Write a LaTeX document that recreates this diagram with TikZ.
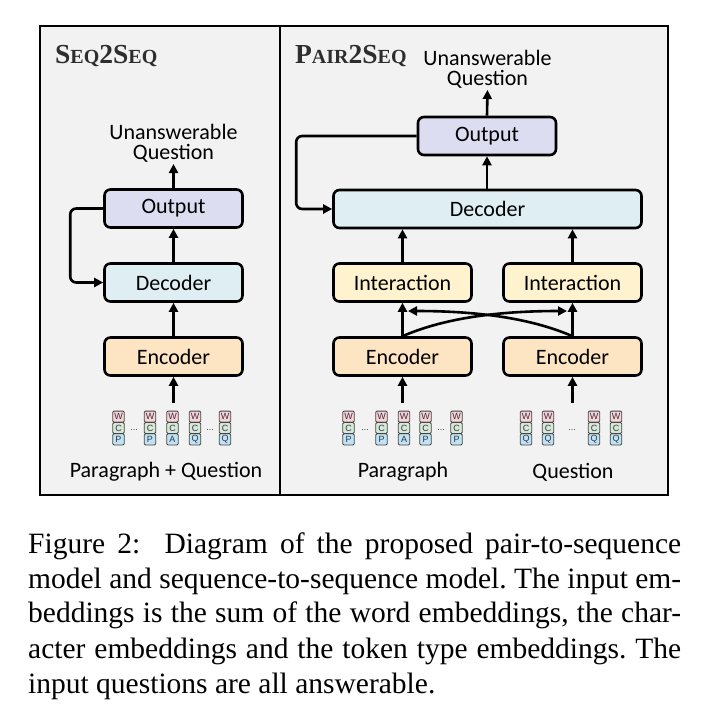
\documentclass[tikz,border=0pt]{standalone}
\usepackage{fontspec}
\setmainfont{Liberation Serif}
\newfontfamily\diagfont{Carlito}
\newfontfamily\tokfont{Liberation Sans}
\usetikzlibrary{arrows.meta,calc}
\definecolor{bggray}{HTML}{F2F2F2}
\definecolor{outfill}{HTML}{DCDDF1}
\definecolor{decfill}{HTML}{DFEEF3}
\definecolor{encfill}{HTML}{FDE4C2}
\definecolor{intfill}{HTML}{FFF2CE}
\definecolor{wfill}{HTML}{F8D3D3}
\definecolor{cfill}{HTML}{D6E9D5}
\definecolor{pfill}{HTML}{BEE3F2}
\definecolor{tokline}{HTML}{454545}
\definecolor{toktext}{HTML}{3A3050}
\definecolor{titlecol}{HTML}{2E2E2E}
\newcommand\SCbig{\fontsize{27.5}{27}\selectfont}
\newcommand\SCsmall{\fontsize{20}{20}\selectfont}
\begin{document}
\frenchspacing
\begin{tikzpicture}[x=1pt,y=-1pt,
  mbox/.style={draw, line width=2.6pt, rounded corners=6pt, minimum width=138pt,
    minimum height=38pt, inner sep=0pt, font=\diagfont\fontsize{22}{24}\selectfont},
  outbox/.style={mbox, fill=outfill},
  decbox/.style={mbox, fill=decfill},
  encbox/.style={mbox, fill=encfill},
  intbox/.style={mbox, fill=intfill},
  arr/.style={line width=2.6pt, -{Triangle[length=9pt,width=9pt]}},
  lbl/.style={inner sep=1pt, font=\diagfont\fontsize{22}{24}\selectfont},
  ulbl/.style={inner sep=1pt, align=center, font=\diagfont\fontsize{22}{20.5}\selectfont},
  ttl/.style={anchor=base west, inner sep=0pt, font=\bfseries, text=titlecol},
  tcell/.style={draw=tokline, line width=0.9pt, rounded corners=1.3pt, minimum width=11.5pt,
    minimum height=11.3pt, inner sep=0pt, text=toktext, font=\tokfont\fontsize{9}{9}\selectfont},
  wcell/.style={tcell, fill=wfill},
  ccell/.style={tcell, fill=cfill},
  pcell/.style={tcell, fill=pfill},
  dotlbl/.style={inner sep=0pt, font=\tokfont\fontsize{9}{9}\selectfont, text=toktext},
  captxt/.style={anchor=base west, inner sep=0pt, font=\fontsize{29.5}{35}\selectfont}
]
\newcommand\tokstack[3]{%
  \node[wcell] (#1w) at (#2,416.7) {W};
  \node[ccell] (#1c) at (#2,428.0) {C};
  \node[pcell] (#1p) at (#2,439.3) {#3};
}
\useasboundingbox (0,0) rectangle (713,716);
\fill[white] (0,0) rectangle (713,716);
\draw[fill=bggray, line width=1.6pt] (40,26) rectangle (668,495);
\draw[line width=1.4pt] (280,26) -- (280,495);

% titles
\node[ttl] (t1) at (55,63) {\SCbig S\SCsmall EQ\SCbig 2S\SCsmall EQ};
\node[ttl] (t2) at (295,63) {\SCbig P\SCsmall AIR\SCbig 2S\SCsmall EQ};

% ---------- Seq2Seq ----------
\node[outbox] (lout) at (173.5,208.5) {Output};
\node[decbox] (ldec) at (173.5,282.5) {Decoder};
\node[encbox] (lenc) at (173.5,356.5) {Encoder};
\node[ulbl, anchor=south] (ltxt) at (173.5,164) {Unanswerable\\Question};
\draw[arr] (ldec) -- (lout);
\draw[arr] (lenc) -- (ldec);
\draw[arr] (lout.north) -- (ltxt.south);
\draw[arr, rounded corners=6pt] (lout.west) -- ++(-33,0) |- (ldec.west);

\tokstack{la}{118.5}{P}
\tokstack{lb}{150}{P}
\tokstack{lc}{172.5}{A}
\tokstack{ld}{195}{Q}
\tokstack{le}{225}{Q}
\node[dotlbl] (ld1) at (134.2,430) {...};
\node[dotlbl] (ld2) at (210,430) {...};
\coordinate (lin) at (173.5,403);
\draw[arr] (lin) -- (lenc.south);
\node[lbl] (lpq) at (166,472) {Paragraph + Question};

% ---------- Pair2Seq ----------
\node[outbox] (rout) at (487,136) {Output};
\node[decbox, minimum width=308pt] (rdec) at (487.5,209) {Decoder};
\node[intbox] (rint1) at (402.5,282.5) {Interaction};
\node[intbox] (rint2) at (572.5,282.5) {Interaction};
\node[encbox] (renc1) at (402.5,356.5) {Encoder};
\node[encbox] (renc2) at (572.5,356.5) {Encoder};
\node[ulbl, anchor=south] (rtxt) at (487.5,90) {Unanswerable\\Question};
\draw[arr] (rout.north) -- (rtxt.south);
\draw[arr] (rdec.north -| rout.south) -- (rout.south);
\draw[arr, rounded corners=6pt] (rout.west) -- ++(-120.5,0) |- (rdec.west);
\draw[arr] (rint1.north) -- (rint1.north |- rdec.south);
\draw[arr] (rint2.north) -- (rint2.north |- rdec.south);
\draw[arr] (renc1) -- (rint1);
\draw[arr] (renc2) -- (rint2);
\coordinate (x1) at (567,311);
\coordinate (x2) at (408,311);
\draw[arr] (renc1.north) .. controls (440,320) and (490,311) .. (x1);
\draw[arr] (renc2.north) .. controls (535,320) and (485,311) .. (x2);

\tokstack{pa}{348.5}{P}
\tokstack{pb}{381.5}{P}
\tokstack{pc}{404}{A}
\tokstack{pd}{425.5}{P}
\tokstack{pe}{456.5}{P}
\node[dotlbl] (pd1) at (365,430) {...};
\node[dotlbl] (pd2) at (441,430) {...};
\tokstack{qa}{526}{Q}
\tokstack{qb}{548}{Q}
\tokstack{qc}{594}{Q}
\tokstack{qd}{616}{Q}
\node[dotlbl] (qd1) at (572,430) {...};
\coordinate (pin) at (402.5,403);
\coordinate (qin) at (572.5,403);
\draw[arr] (pin) -- (renc1.south);
\draw[arr] (qin) -- (renc2.south);
\node[lbl] (plbl) at (403,472) {Paragraph};
\node[lbl] (qlbl) at (573,472) {Question};

% ---------- caption ----------
\node[captxt] (cap1) at (28,553) {\makebox[653pt][s]{Figure 2:\ \ Diagram of the proposed pair-to-sequence}};
\node[captxt] (cap2) at (28,588) {\makebox[653pt][s]{model and sequence-to-sequence model. The input em-}};
\node[captxt] (cap3) at (28,622) {\makebox[653pt][s]{beddings is the sum of the word embeddings, the char-}};
\node[captxt] (cap4) at (28,658) {\makebox[653pt][s]{acter embeddings and the token type embeddings. The}};
\node[captxt] (cap5) at (28,693) {input questions are all answerable.};
\end{tikzpicture}
\end{document}
